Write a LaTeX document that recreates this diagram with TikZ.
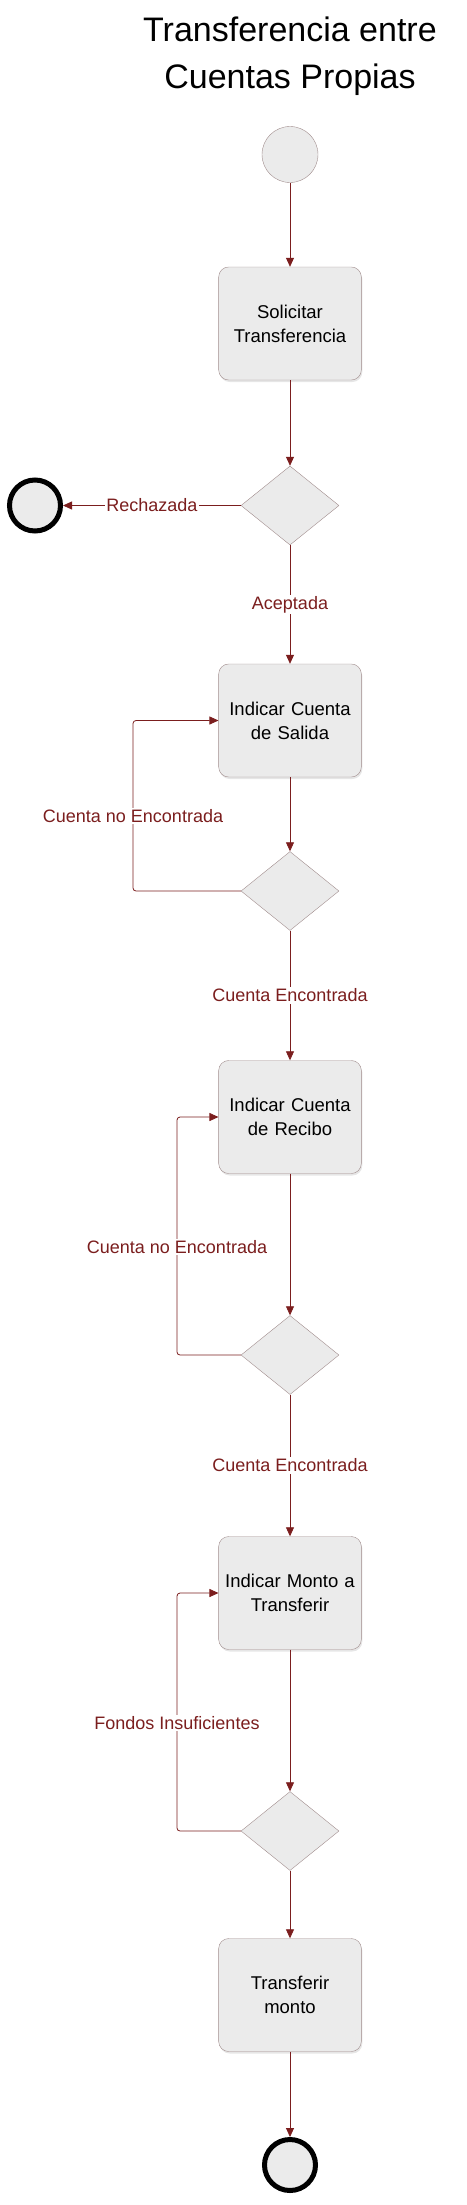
\documentclass[tikz,border=0pt]{standalone}
\usepackage{fontspec}
\setmainfont{Liberation Sans}
\usetikzlibrary{shapes.geometric}
\usetikzlibrary{arrows.meta}
\usetikzlibrary{shadows}
\definecolor{flujo}{HTML}{7B1E1E}
\definecolor{borde}{HTML}{A08C8C}
\definecolor{relleno}{HTML}{EBEBEB}

\begin{document}
\begin{tikzpicture}[x=1pt,y=-1pt,
  actividad/.style={rectangle,rounded corners=10pt,draw=borde,fill=relleno,
    minimum width=142pt,minimum height=113pt,text width=136pt,align=center,
    font=\fontsize{18.5}{24}\selectfont,
    drop shadow={opacity=0.2,shadow xshift=1pt,shadow yshift=-2pt}},
  decision/.style={diamond,draw=borde,fill=relleno,minimum width=98pt,
    minimum height=79pt,inner sep=0pt},
  inicio/.style={circle,draw=borde,fill=relleno,minimum size=56pt,inner sep=0pt},
  fin/.style={circle,draw=black,line width=5pt,fill=relleno,minimum size=51pt,inner sep=0pt},
  flujo/.style={draw=flujo,line width=0.8pt,-{Triangle[length=9pt,width=8pt]}},
  guarda/.style={fill=white,text=flujo,inner sep=1.5pt,font=\fontsize{18}{22}\selectfont}]

\useasboundingbox (0,0) rectangle (466,2205);

\node[anchor=north,align=center,inner sep=0pt,font=\fontsize{34}{47}\selectfont]
  (titulo) at (290,17) {Transferencia entre\\Cuentas Propias};

% nodos
\node[inicio] (ini) at (290,154.5) {};
\node[actividad] (b1) at (290,323.5) {Solicitar\\Transferencia};
\node[decision] (d1) at (290,505.5) {};
\node[fin] (finR) at (35,505.5) {};
\node[actividad] (b2) at (290,720.5) {Indicar Cuenta\\de Salida};
\node[decision] (d2) at (290,891) {};
\node[actividad] (b3) at (290,1117) {Indicar Cuenta\\de Recibo};
\node[decision] (d3) at (290,1355) {};
\node[actividad] (b4) at (290,1593) {Indicar Monto a\\Transferir};
\node[decision] (d4) at (290,1831) {};
\node[actividad] (b5) at (290,1995) {Transferir\\monto};
\node[fin] (finT) at (290,2165) {};

\coordinate (lazo1) at (133,891);
\coordinate (lazo2) at (177,1355);
\coordinate (lazo3) at (177,1831);

% flujo principal
\draw[flujo] (ini) -- (b1);
\draw[flujo] (b1) -- (d1.north);
\draw[flujo] (d1.west) -- (finR) node[guarda,midway] (g0) {Rechazada};
\draw[flujo] (d1.south) -- (b2) node[guarda,midway] (g1) {Aceptada};
\draw[flujo] (b2) -- (d2.north);
\draw[flujo] (d2.south) -- (b3) node[guarda,midway] (g3) {Cuenta Encontrada};
\draw[flujo] (b3) -- (d3.north);
\draw[flujo] (d3.south) -- (b4) node[guarda,midway] (g5) {Cuenta Encontrada};
\draw[flujo] (b4) -- (d4.north);
\draw[flujo] (d4.south) -- (b5);
\draw[flujo] (b5) -- (finT);

% reintentos
\draw[flujo,rounded corners=3pt] (d2.west) -- (lazo1) |- (b2.west);
\node[guarda] (g2) at (133,816) {Cuenta no Encontrada};
\draw[flujo,rounded corners=3pt] (d3.west) -- (lazo2) |- (b3.west);
\node[guarda] (g4) at (177,1247) {Cuenta no Encontrada};
\draw[flujo,rounded corners=3pt] (d4.west) -- (lazo3) |- (b4.west);
\node[guarda] (g6) at (177,1723) {Fondos Insuficientes};

\end{tikzpicture}
\end{document}
